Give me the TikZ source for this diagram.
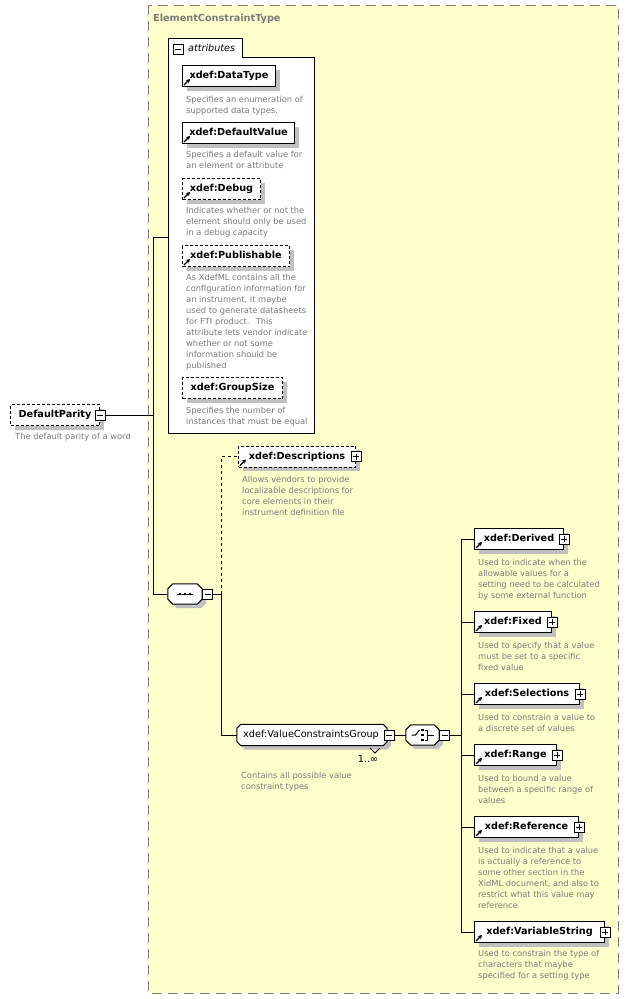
\documentclass[tikz,border=0pt]{standalone}
\usepackage{fontspec}
\setmainfont{DejaVu Sans}
\usetikzlibrary{shadows,arrows.meta,calc}
\definecolor{bgyellow}{HTML}{FFFFCC}
\definecolor{txtgray}{HTML}{7A7A7A}
\definecolor{shgray}{HTML}{C0C0C0}
\definecolor{framegray}{HTML}{808080}
\newcommand\lblfont{\fontsize{9.7}{12}\selectfont}
\newcommand\descfont{\fontsize{8.3}{11}\selectfont}
\tikzset{
 elem/.style={draw, fill=white, line width=1pt, inner sep=0pt, minimum height=21pt, anchor=west,
   font=\lblfont\bfseries, text height=7.2pt, text depth=2pt,
   drop shadow={shadow xshift=4pt, shadow yshift=-4pt, fill=shgray, opacity=1}},
 optelem/.style={elem, dash pattern=on 3pt off 2pt},
 pmbox/.style={draw, fill=white, line width=0.8pt, minimum size=10pt, inner sep=0pt},
 desc/.style={anchor=north west, inner sep=0pt, align=left, text=txtgray, font=\descfont},
 conn/.style={line width=1pt},
 optconn/.style={line width=1pt, dash pattern=on 3pt off 3pt},
 holder/.style={inner sep=0pt, minimum height=20pt},
}
\newcommand\minussign[1]{\draw[line width=0.8pt] ([xshift=-3pt]#1.center) -- ([xshift=3pt]#1.center);}
\newcommand\plussign[1]{\minussign{#1}\draw[line width=0.8pt] ([yshift=-3pt]#1.center) -- ([yshift=3pt]#1.center);}
\newcommand\refmark[1]{\draw[line width=1.3pt,-{Stealth[length=4pt,width=4.5pt]}] ([shift={(2pt,2pt)}]#1.south west) -- ++(6pt,6pt);}
\newcommand\desc[4]{\node[desc] (#1) at (#2,#3-4.7) {\strut #4};}
% octagon outline round a node: node, cut, dx, dy
\newcommand\octpath[4]{([shift={(#3+#2,#4)}]#1.north west) -- ([shift={(#3-#2,#4)}]#1.north east) -- ([shift={(#3,#4-#2)}]#1.north east) -- ([shift={(#3,#4+#2)}]#1.south east) -- ([shift={(#3-#2,#4)}]#1.south east) -- ([shift={(#3+#2,#4)}]#1.south west) -- ([shift={(#3,#4+#2)}]#1.south west) -- ([shift={(#3,#4-#2)}]#1.north west) -- cycle}
\newcommand\octo[2]{\fill[shgray] \octpath{#1}{#2}{4pt}{-4pt};\draw[fill=white, line width=1pt, line join=round] \octpath{#1}{#2}{0pt}{0pt};}
\begin{document}
\begin{tikzpicture}[x=1pt,y=-1pt]
\useasboundingbox (0,0) rectangle (628,999);
% outer complex type box
\draw[fill=bgyellow, draw=framegray, line width=1pt, dash pattern=on 10pt off 6pt] (148,5) rectangle (618,993);
\node[anchor=west, font=\lblfont\bfseries, text=txtgray, inner sep=0pt] (title) at (153,19) {ElementConstraintType};
% attributes container
\node[anchor=north west, minimum width=146pt, minimum height=395pt, inner sep=0pt] (attrs) at (168,38) {};
\draw[fill=white, line width=1pt] (attrs.south west) -- (attrs.north west) -- ([xshift=74pt]attrs.north west)
  -- ([shift={(74pt,-19pt)}]attrs.north west) -- ([yshift=-19pt]attrs.north east) -- (attrs.south east) -- cycle;
\node[pmbox] (attrpm) at (178,49.5) {};
\minussign{attrpm}
\node[anchor=west, font=\fontsize{9.6}{12}\selectfont\itshape, inner sep=0pt] (attrlbl) at (188,48) {attributes};
% attributes
\node[elem, minimum width=93pt] (datatype) at (182,76) {xdef:DataType}; \refmark{datatype}
\desc{datatypeD}{186}{99}{Specifies an enumeration of\\supported data types.}
\node[elem, minimum width=112pt] (defval) at (182,133) {xdef:DefaultValue}; \refmark{defval}
\desc{defvalD}{186}{154}{Specifies a default value for\\an element or attribute}
\node[optelem, minimum width=78pt] (debug) at (182,189) {xdef:Debug}; \refmark{debug}
\desc{debugD}{186}{210}{Indicates whether or not the\\element should only be used\\in a debug capacity}
\node[optelem, minimum width=107pt] (publ) at (182,256) {xdef:Publishable}; \refmark{publ}
\desc{publD}{186}{277}{As XdefML contains all the\\configuration information for\\an instrument, it maybe\\used to generate datasheets\\for FTI product.~ This\\attribute lets vendor indicate\\whether or not some\\information should be\\published}
\node[optelem, minimum width=100pt] (gsize) at (182,388) {xdef:GroupSize};
\desc{gsizeD}{186}{410}{Specifies the number of\\instances that must be equal}
% root element
\node[optelem, minimum width=89pt] (dparity) at (10,415) {DefaultParity};
\node[pmbox] (dppm) at (dparity.east) {}; \minussign{dppm}
\desc{dparityD}{15}{436}{The default parity of a word}
% sequence
\node[holder, minimum width=34pt] (seq) at (185,594) {};
\octo{seq}{5pt}
\draw[line width=1pt] ([xshift=-8pt]seq.center) -- ([xshift=8pt]seq.center);
\foreach \d in {-5,0,5} \fill ([shift={(\d pt-1.4pt,-1.4pt)}]seq.center) rectangle ++(2.8pt,2.8pt);
\node[pmbox, anchor=west] (seqpm) at (seq.east) {}; \minussign{seqpm}
% descriptions
\node[optelem, minimum width=117pt] (descr) at (238,456.5) {xdef:Descriptions}; \refmark{descr}
\node[pmbox] (descrpm) at (descr.east) {}; \plussign{descrpm}
\desc{descrD}{242}{479}{Allows vendors to provide\\localizable descriptions for\\core elements in their\\instrument definition file}
% value constraints group
\node[holder, minimum width=150pt, minimum height=21pt] (vcg) at (312,735) {};
\octo{vcg}{4pt}
\node[font=\lblfont, inner sep=0pt, text height=7.2pt, text depth=2pt] (vcglbl) at ([xshift=-1pt]vcg.center) {xdef:ValueConstraintsGroup};
\node[pmbox] (vcgpm) at ([xshift=2pt]vcg.east) {}; \minussign{vcgpm}
\draw[line width=0.8pt] (370,748) -- (375,753) -- (380,748);
\node[font=\lblfont, inner sep=0pt] (card) at (368,759) {1..∞};
\desc{vcgD}{241}{775}{Contains all possible value\\constraint types}
% choice
\node[holder, minimum width=33pt] (cho) at (422.5,735) {};
\octo{cho}{5pt}
\draw[line width=1pt] ([xshift=-11pt]cho.center) -- ([xshift=-7pt]cho.center) -- ([shift={(-3pt,5pt)}]cho.center);
\foreach \d in {-5,0,5} \fill ([shift={(-1.3pt,\d pt-1.3pt)}]cho.center) rectangle ++(2.6pt,2.6pt);
\draw[line width=1pt] ([shift={(2pt,5pt)}]cho.center) -- ([shift={(5pt,5pt)}]cho.center) -- ([shift={(5pt,-5pt)}]cho.center) -- ([shift={(2pt,-5pt)}]cho.center);
\draw[line width=1pt] ([shift={(5pt,0pt)}]cho.center) -- ([shift={(11pt,0pt)}]cho.center);
\node[pmbox, anchor=west] (chopm) at (cho.east) {}; \minussign{chopm}
% choice members
\node[elem, minimum width=89pt] (derived) at (474,539) {xdef:Derived}; \refmark{derived}
\node[pmbox] (derivedpm) at (derived.east) {}; \plussign{derivedpm}
\desc{derivedD}{478}{562}{Used to indicate when the\\allowable values for a\\setting need to be calculated\\by some external function}
\node[elem, minimum width=77pt] (fixed) at (474,622) {xdef:Fixed}; \refmark{fixed}
\node[pmbox] (fixedpm) at (fixed.east) {}; \plussign{fixedpm}
\desc{fixedD}{478}{645}{Used to specify that a value\\must be set to a specific\\fixed value}
\node[elem, minimum width=105pt] (selections) at (474,694) {xdef:Selections}; \refmark{selections}
\node[pmbox] (selectionspm) at (selections.east) {}; \plussign{selectionspm}
\desc{selectionsD}{478}{717}{Used to constrain a value to\\a discrete set of values}
\node[elem, minimum width=82pt] (range) at (474,755) {xdef:Range}; \refmark{range}
\node[pmbox] (rangepm) at (range.east) {}; \plussign{rangepm}
\desc{rangeD}{478}{778}{Used to bound a value\\between a specific range of\\values}
\node[elem, minimum width=104pt] (reference) at (474,827) {xdef:Reference}; \refmark{reference}
\node[pmbox] (referencepm) at (reference.east) {}; \plussign{referencepm}
\desc{referenceD}{478}{850}{Used to indicate that a value\\is actually a reference to\\some other section in the\\XidML document, and also to\\restrict what this value may\\reference}
\node[elem, minimum width=130pt] (varstr) at (474,932) {xdef:VariableString}; \refmark{varstr}
\node[pmbox] (varstrpm) at (varstr.east) {}; \plussign{varstrpm}
\desc{varstrD}{478}{953}{Used to constrain the type of\\characters that maybe\\specified for a setting type}
% connectors
\coordinate (busA) at (153,237);
\coordinate (busB) at (153,594);
\coordinate (busC) at (221,594);
\coordinate (busD) at (461,735);
\draw[conn] (dppm.east) -- (dppm.east -| busA);
\draw[conn] (busA) -- (busB);
\draw[conn] (busA) -- (busA -| attrs.west);
\draw[conn] (busB) -- (seq.west);
\draw[conn] (seqpm.east) -- (busC);
\draw[optconn] (busC) |- (descr.west);
\draw[conn] (busC) |- (vcg.west);
\draw[conn] (vcgpm.east) -- (cho.west);
\draw[conn] (chopm.east) -- (busD);
\draw[conn] (busD |- derived.west) -- (busD |- varstr.west);
\foreach \n in {derived,fixed,selections,range,reference,varstr} \draw[conn] (busD |- \n.west) -- (\n.west);
\end{tikzpicture}
\end{document}
